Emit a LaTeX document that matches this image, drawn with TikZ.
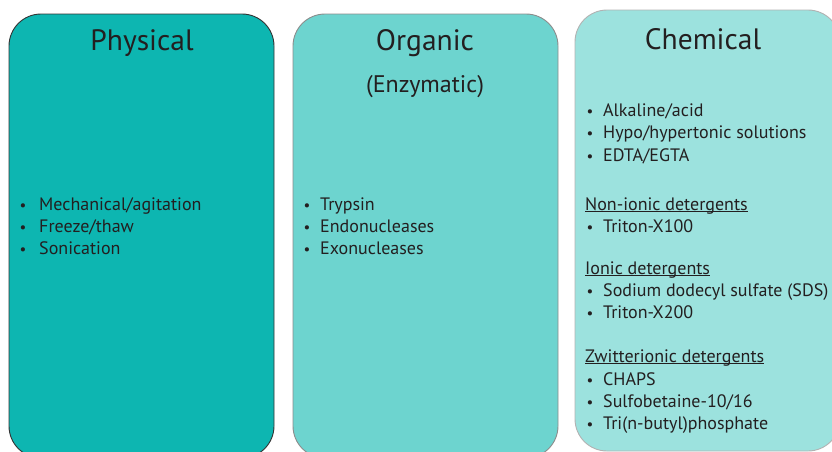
\documentclass[tikz,border=0pt]{standalone}
\usepackage{fontspec}
\setmainfont{PT Sans}
\definecolor{cA}{HTML}{0DB6B1}
\definecolor{cB}{HTML}{6DD4CF}
\definecolor{cC}{HTML}{9CE2DE}
\definecolor{txt}{HTML}{231F20}
\tikzset{
  panel/.style={rounded corners=32pt, line width=0.9pt},
  ttl/.style={font=\fontsize{29.5}{32}\selectfont, text=txt, inner sep=0pt},
  sub/.style={font=\fontsize{24}{26}\selectfont, text=txt, inner sep=0pt},
  itm/.style={font=\fontsize{18}{20}\selectfont, text=txt, inner sep=0pt, anchor=base west},
  bul/.style={font=\fontsize{15}{18}\selectfont, text=txt, inner sep=0pt, anchor=base},
  uline/.style={draw=txt, line width=0.8pt},
}
\begin{document}
\begin{tikzpicture}[x=1pt,y=-1pt]
\useasboundingbox (0,0) rectangle (832,451);
\clip (0,0) rectangle (832,451);
\draw[panel, fill=cA, draw=black!80] (9,14) rectangle (274,458);
\draw[panel, fill=cB, draw=black!45] (293,14) rectangle (558,458);
\draw[panel, fill=cC, draw=black!30] (575,10) rectangle (840,451);
\node[ttl] (t1) at (142,43.5) {Physical};
\node[ttl] (t2) at (425,43.5) {Organic};
\node[sub] (t2b) at (425,87) {(Enzymatic)};
\node[ttl] (t3) at (703,39.5) {Chemical};
% Physical
\foreach \n/\y/\s in {a/210/{Mechanical/agitation},b/232/{Freeze/thaw},c/254/{Sonication}}{
  \node[bul] (pb\n) at (23,\y) {\textbullet};
  \node[itm] (p\n) at (39,\y) {\s};
}
% Organic
\foreach \n/\y/\s in {a/210/{Trypsin},b/232/{Endonucleases},c/254/{Exonucleases}}{
  \node[bul] (ob\n) at (307,\y) {\textbullet};
  \node[itm] (o\n) at (320,\y) {\s};
}
% Chemical
\foreach \n/\y/\s in {a/116/{Alkaline/acid},b/138/{Hypo/hypertonic solutions},c/161/{EDTA/EGTA},d/232/{Triton-X100},e/296/{Sodium dodecyl sulfate (SDS)},f/318/{Triton-X200},g/385/{CHAPS},h/407/{Sulfobetaine-10/16},i/429/{Tri(n-butyl)phosphate}}{
  \node[bul] (cb\n) at (590,\y) {\textbullet};
  \node[itm] (c\n) at (603,\y) {\s};
}
\node[itm] (h1) at (585,210) {Non-ionic detergents};
\node[itm] (h2) at (585,274) {Ionic detergents};
\node[itm] (h3) at (585,362) {Zwitterionic detergents};
\foreach \h in {h1,h2,h3}{
  \draw[uline] ([yshift=-1.8pt]\h.base west) -- ([yshift=-1.8pt]\h.base east);
}
\end{tikzpicture}
\end{document}
